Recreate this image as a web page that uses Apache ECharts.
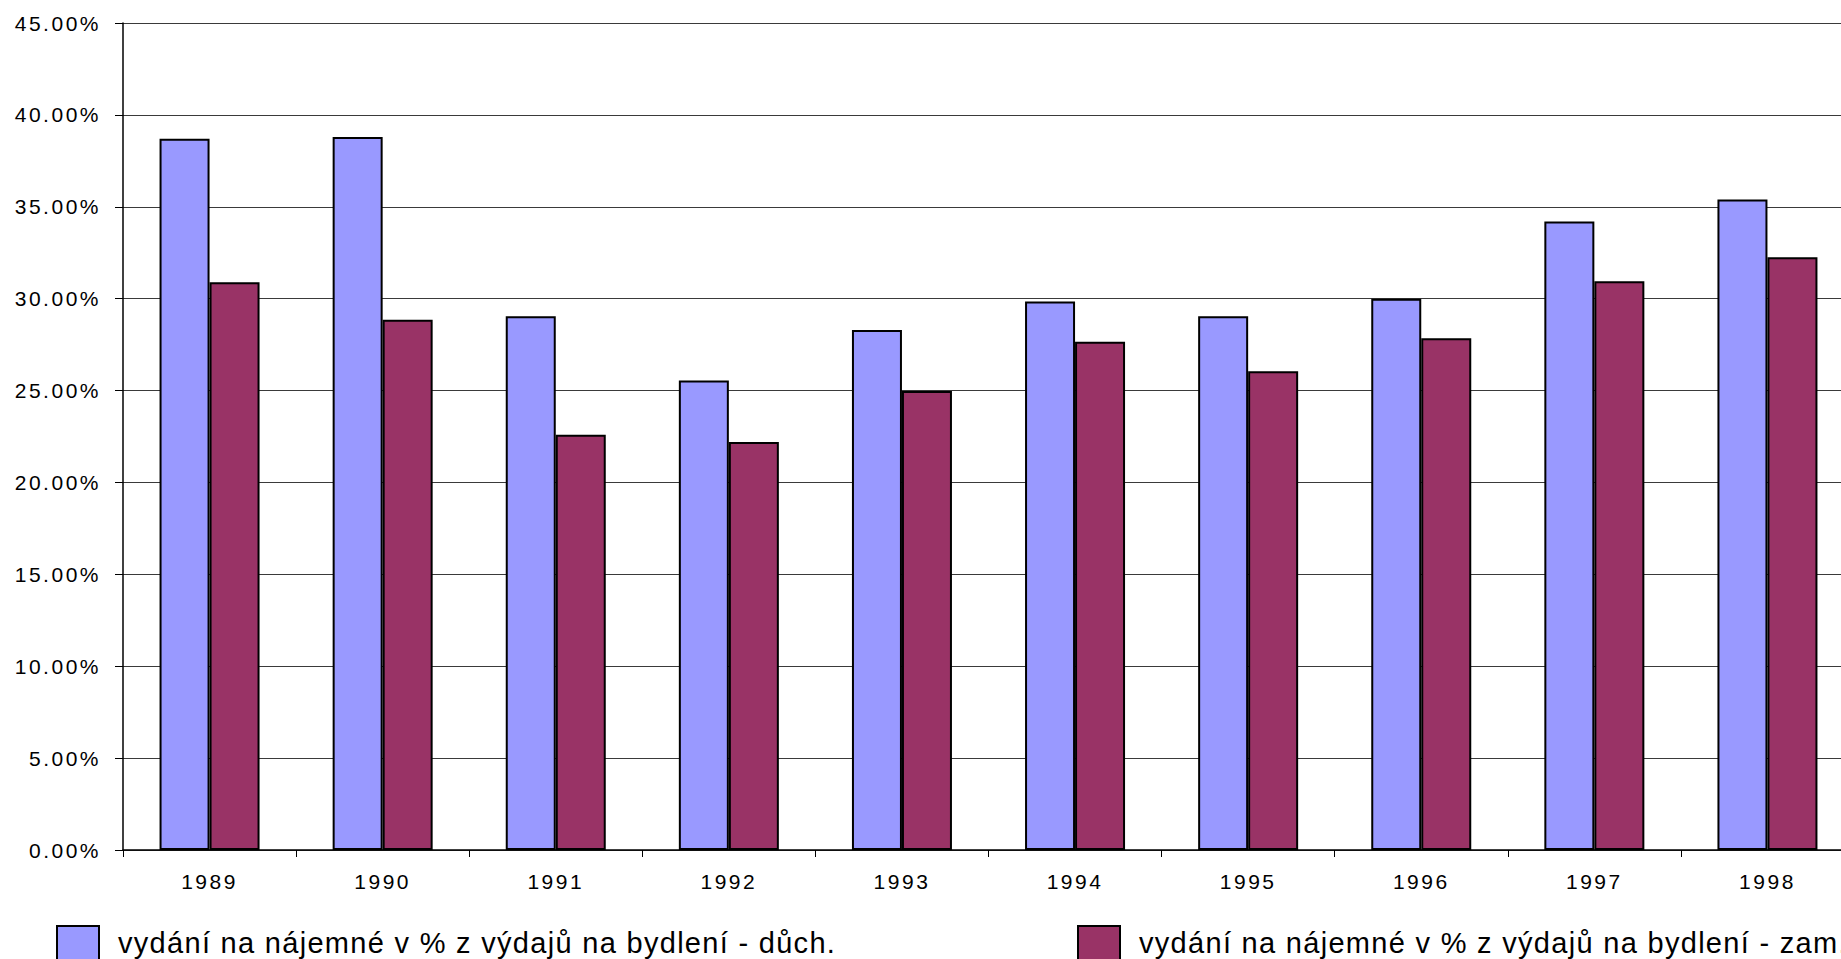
<!DOCTYPE html>
<html>
<head>
<meta charset="utf-8">
<script src="https://cdn.jsdelivr.net/npm/echarts@6/dist/echarts.min.js"></script>
<style>
  html, body { margin: 0; padding: 0; background: #fff; overflow: hidden; }
  #chart { width: 1854px; height: 959px; }
  /* spaced-out lettering for axis labels and legend */
  #chart text { letter-spacing: 2.5px; }
  #chart text[style*="29px"] { letter-spacing: 1.3px; }
</style>
</head>
<body>
<div id="chart"></div>
<script>
// Years on the category axis
const years = ['1989', '1990', '1991', '1992', '1993', '1994', '1995', '1996', '1997', '1998'];

// Rent expenditure as % of housing expenditure
const pensioners = [38.7, 38.8, 29.05, 25.55, 28.3, 29.85, 29.05, 30.0, 34.2, 35.4];
const employees  = [30.9, 28.85, 22.6, 22.2, 24.98, 27.65, 26.05, 27.85, 30.95, 32.25];

const seriesNames = [
  'vydání na nájemné v % z výdajů na bydlení - důch.',
  'vydání na nájemné v % z výdajů na bydlení - zam.'
];

// Value axis range and step (percent)
const yMin = 0, yMax = 45, yStep = 5;

const FONT = '"Liberation Sans", Arial, sans-serif';

const chart = echarts.init(document.getElementById('chart'), null, { renderer: 'svg' });

const legendText = { fontFamily: FONT, fontSize: 29, color: '#000', padding: [0, 0, 0, 14] };

chart.setOption({
  animation: false,
  backgroundColor: '#ffffff',
  grid: { left: 123, top: 23, right: 0, bottom: 109, containLabel: false },
  legend: [
    {
      data: [seriesNames[0]],
      left: 56, top: 925, padding: 0,
      icon: 'rect', itemWidth: 42, itemHeight: 34,
      textStyle: legendText
    },
    {
      data: [seriesNames[1]],
      left: 1077, top: 925, padding: 0,
      icon: 'rect', itemWidth: 42, itemHeight: 34,
      textStyle: legendText
    }
  ],
  xAxis: {
    type: 'category',
    data: years,
    axisLine: { lineStyle: { color: '#000', width: 1.5 } },
    axisTick: { show: true, length: 7, lineStyle: { color: '#000', width: 1 } },
    axisLabel: { fontFamily: FONT, fontSize: 21, color: '#000', margin: 21 }
  },
  yAxis: {
    type: 'value',
    min: yMin, max: yMax, interval: yStep,
    axisLine: { show: true, lineStyle: { color: '#000', width: 1.5 } },
    axisTick: { show: true, length: 8, lineStyle: { color: '#000', width: 1 } },
    axisLabel: {
      fontFamily: FONT, fontSize: 21, color: '#000', margin: 22,
      formatter: v => v.toFixed(2) + '%'
    },
    splitLine: { show: true, lineStyle: { color: '#3a3a3a', width: 1 } }
  },
  series: [
    {
      name: seriesNames[0],
      type: 'bar',
      data: pensioners,
      barWidth: 50,
      barGap: '0%',
      itemStyle: { color: '#9999FF', borderColor: '#000', borderWidth: 2 }
    },
    {
      name: seriesNames[1],
      type: 'bar',
      data: employees,
      barWidth: 50,
      barGap: '0%',
      itemStyle: { color: '#993366', borderColor: '#000', borderWidth: 2 }
    }
  ]
});
</script>
</body>
</html>
